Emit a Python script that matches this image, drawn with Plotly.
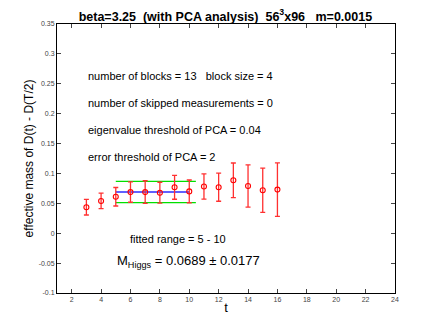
import plotly.graph_objects as go

# effective mass data
t = [3, 4, 5, 6, 7, 8, 9, 10, 11, 12, 13, 14, 15, 16]
meff = [0.0435, 0.054, 0.061, 0.0688, 0.0688, 0.0678, 0.0768, 0.0700, 0.0782, 0.0770, 0.0885, 0.0790, 0.0720, 0.0730]
err = [0.0130, 0.0130, 0.0155, 0.0170, 0.0190, 0.0175, 0.0200, 0.0190, 0.0210, 0.0235, 0.0290, 0.0355, 0.0370, 0.0447]

# fit result
fit_t = [5, 10]
fit_band_t = [5, 10.45]
m_fit = 0.0689
m_err = 0.0177

yticks = [-0.1, -0.05, 0, 0.05, 0.1, 0.15, 0.2, 0.25, 0.3, 0.35]
ytick_text = ["-0.1", "-0.05", "0", "0.05", "0.1", "0.15", "0.2", "0.25", "0.3", "0.35"]
xticks = [2, 4, 6, 8, 10, 12, 14, 16, 18, 20, 22, 24]

info = ["number of blocks = 13&nbsp;&nbsp; block size = 4",
        "number of skipped measurements = 0",
        "eigenvalue threshold of PCA = 0.04",
        "error threshold of PCA = 2"]
info_y = [0.263, 0.218, 0.172, 0.127]

fnt = "Liberation Sans, Arial, sans-serif"

fig = go.Figure()
fig.add_scatter(x=fit_band_t, y=[m_fit + m_err] * 2, mode="lines",
                line=dict(color="#00e000", width=1.3), showlegend=False)
fig.add_scatter(x=fit_band_t, y=[m_fit - m_err] * 2, mode="lines",
                line=dict(color="#00e000", width=1.3), showlegend=False)
fig.add_scatter(x=fit_t, y=[m_fit] * 2, mode="lines",
                line=dict(color="#6060ff", width=2), showlegend=False)
fig.add_scatter(x=t, y=meff, mode="markers",
                marker=dict(symbol="circle-open", color="red", size=5, line=dict(width=1.1)),
                error_y=dict(type="data", array=err, color="#ff3030", thickness=1.3, width=2.5),
                showlegend=False)

for s, yy in zip(info, info_y):
    fig.add_annotation(x=2.95, y=yy, text=s, showarrow=False, xanchor="left",
                       font=dict(size=11, color="black", family=fnt))
fig.add_annotation(x=5.85, y=-0.01, text="fitted range = 5 - 10", showarrow=False,
                   xanchor="left", font=dict(size=11, color="black", family=fnt))
fig.add_annotation(x=4.95, y=-0.047,
                   text="M<sub>Higgs</sub> = 0.0689 ± 0.0177", showarrow=False,
                   xanchor="left", font=dict(size=13, color="black", family=fnt))

fig.update_layout(
    width=436, height=327,
    margin=dict(l=57, r=41, t=24, b=34),
    paper_bgcolor="white", plot_bgcolor="white",
    title=dict(text="<b>beta=3.25&nbsp; (with PCA analysis)&nbsp; 56<sup>3</sup>x96&nbsp;&nbsp; m=0.0015</b>",
               x=0.517, xanchor="center", y=0.95, yanchor="middle",
               font=dict(size=12.5, color="black", family=fnt)),
    font=dict(family=fnt),
)
fig.update_xaxes(range=[1, 24], tickvals=xticks, ticks="inside", ticklen=4,
                 showline=True, linecolor="black", linewidth=1, mirror="ticks",
                 showgrid=False, zeroline=False, automargin=False,
                 tickfont=dict(size=7, color="#444"),
                 title=dict(text="t", font=dict(size=13, color="black"), standoff=0))
fig.update_yaxes(range=[-0.1, 0.35], tickvals=yticks, ticktext=ytick_text,
                 ticks="inside", ticklen=4,
                 showline=True, linecolor="black", linewidth=1, mirror="ticks",
                 showgrid=False, zeroline=False, automargin=False,
                 tickfont=dict(size=7, color="#444"),
                 title=dict(text="effective mass of D(t) - D(T/2)",
                            font=dict(size=12, color="black"), standoff=2))

# drop the page's default body margin so the figure sits at the window's corner
fig.write_html("out.html", config={"displayModeBar": False},
               post_script="document.body.style.margin='0';")
